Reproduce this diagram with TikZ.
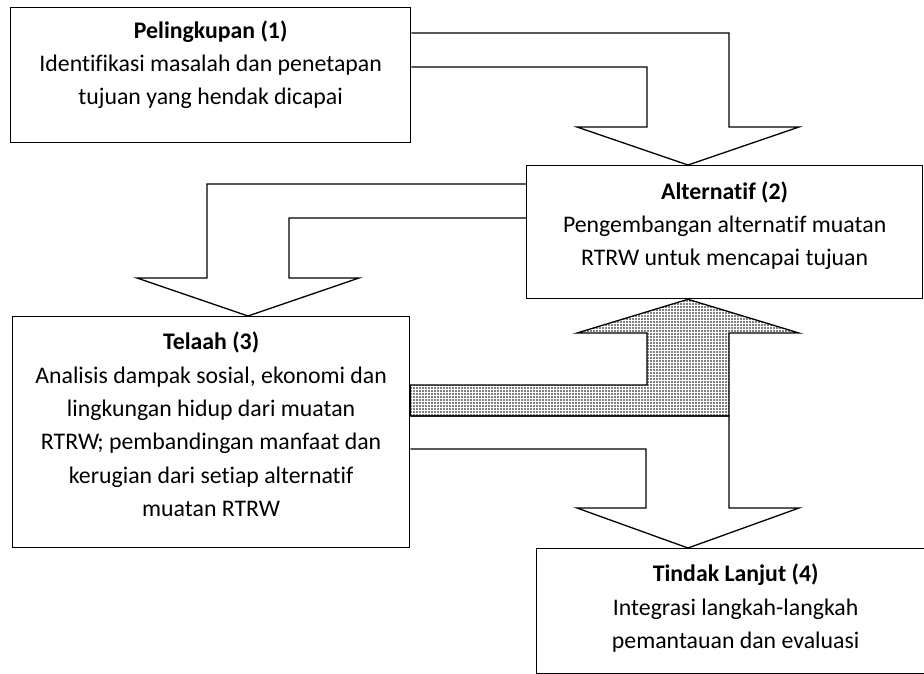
\documentclass[tikz,border=0pt]{standalone}
\usepackage{fontspec}
\setmainfont[Ligatures=NoCommon]{Carlito}
\usetikzlibrary{positioning,patterns.meta}

\tikzset{
	kotak/.style={draw, line width=1.3pt, anchor=north west, inner sep=0pt},
	isi/.style={align=center, inner sep=0pt, font=\fontsize{23.8}{33.3}\selectfont},
	panah/.style={draw, line width=1.3pt, line join=miter},
}

\begin{document}
\begin{tikzpicture}[x=1pt,y=-1pt]
	\useasboundingbox (0,0) rectangle (924,673);
	\clip (0,0) rectangle (924,673);
	%\draw[very thin,color=gray] (0,0) grid[step=50] (924,673);
	\node[kotak, minimum width=400, minimum height=135] (pel) at (10,7) {};
	\node[kotak, minimum width=396, minimum height=133] (alt) at (526,165) {};
	\node[kotak, minimum width=397, minimum height=231] (tel) at (12,316) {};
	\node[kotak, minimum width=398, minimum height=124.5] (tin) at (536,548) {};
	\node[isi, below=13.5pt of pel.north] (pelt) {\textbf{Pelingkupan (1)}\\Identifikasi masalah dan penetapan\\tujuan yang hendak dicapai};
	\node[isi, below=16.5pt of alt.north] (altt) {\textbf{Alternatif (2)}\\Pengembangan alternatif muatan\\RTRW untuk mencapai tujuan};
	\node[isi, below=16pt of tel.north] (telt) {\textbf{Telaah (3)}\\Analisis dampak sosial, ekonomi dan\\lingkungan hidup dari muatan\\RTRW; pembandingan manfaat dan\\kerugian dari setiap alternatif\\muatan RTRW};
	\node[isi, below=16pt of tin.north] (tint) {\textbf{Tindak Lanjut (4)}\\Integrasi langkah-langkah\\pemantauan dan evaluasi};
	% panah (1) ke (2)
	\draw[panah] (pel.east |- 0,33) -- (729,33) -- (729,127) -- (799,127) -- (688,0 |- alt.north)
		-- (577,127) -- (647,127) -- (647,67) -- (pel.east |- 0,67);
	% panah (2) ke (3)
	\draw[panah] (alt.west |- 0,184) -- (207,184) -- (207,278) -- (137,278) -- (248,0 |- tel.north)
		-- (359,278) -- (289,278) -- (289,218) -- (alt.west |- 0,218);
	% panah (3) ke (4)
	\draw[panah] (tel.east |- 0,416) -- (729,416) -- (729,508) -- (799,508) -- (688,0 |- tin.north)
		-- (577,508) -- (646,508) -- (646,449) -- (tel.east |- 0,449);
	% panah balik (3) ke (2)
	\draw[panah, pattern={Dots[distance=3pt, radius=0.85pt]}] (tel.east |- 0,385) -- (647,385) -- (647,333)
		-- (577,333) -- (688,0 |- alt.south) -- (799,333) -- (729,333) -- (729,416) -- (tel.east |- 0,416) -- cycle;
\end{tikzpicture}
\end{document}
